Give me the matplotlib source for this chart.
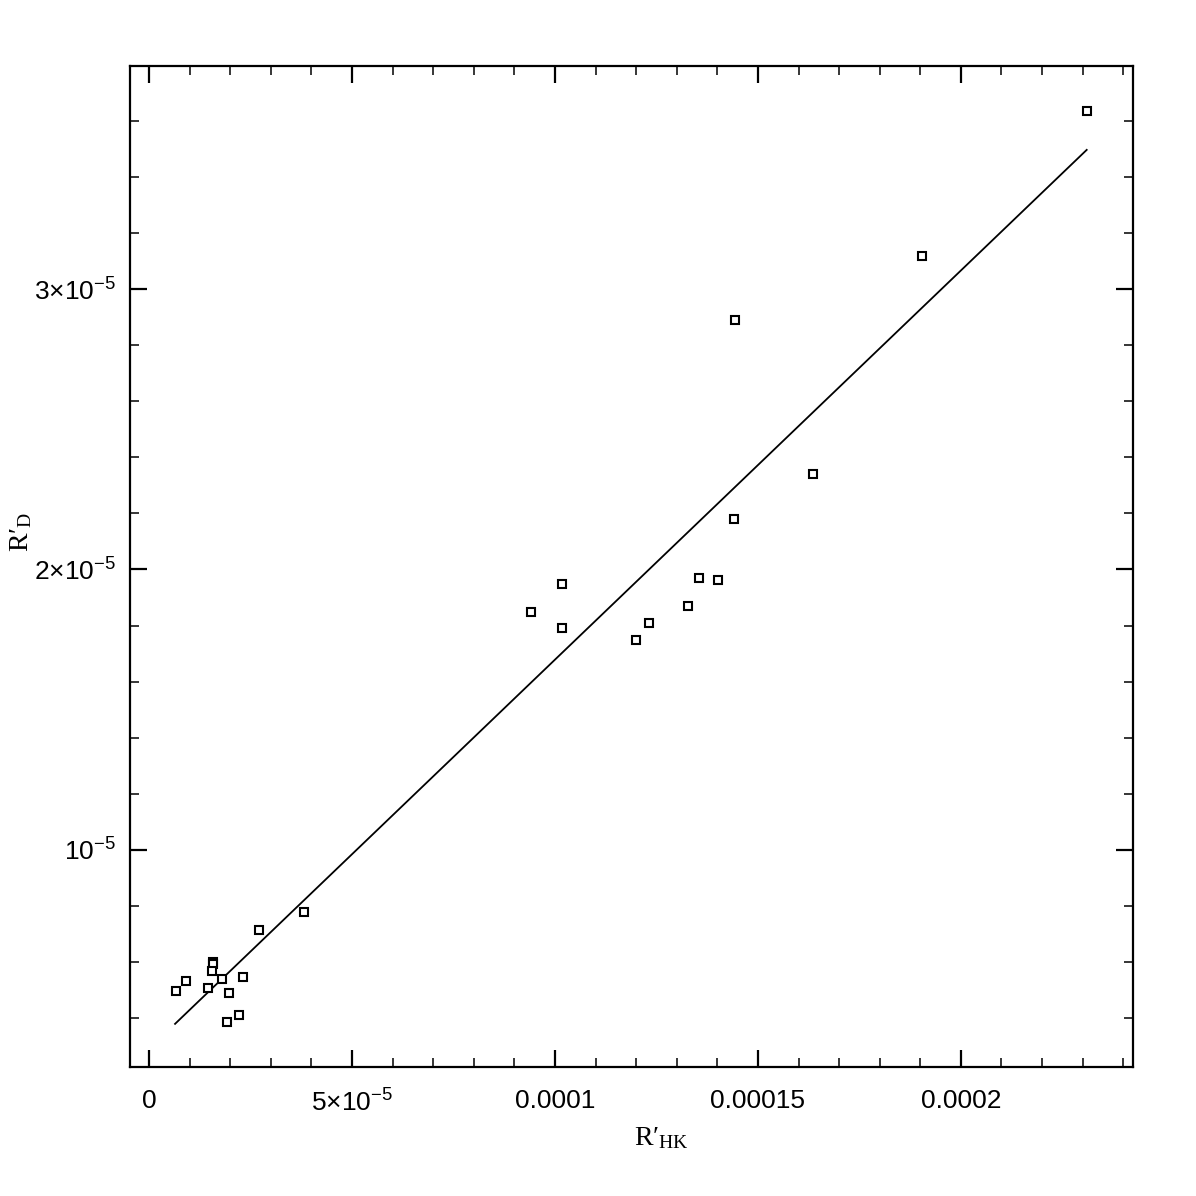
import numpy as np
import matplotlib
matplotlib.use("Agg")
import matplotlib.pyplot as plt
from matplotlib.ticker import FixedLocator, FixedFormatter, MultipleLocator

plt.rcParams['mathtext.fontset'] = 'custom'
plt.rcParams['mathtext.rm'] = 'Liberation Serif'
plt.rcParams['mathtext.sf'] = 'Liberation Sans'
plt.rcParams['mathtext.it'] = 'Liberation Serif:italic'

# measured points (R'_HK, R'_D)
r_hk = [2.310e-4, 1.904e-4, 1.443e-4, 1.635e-4, 1.441e-4, 1.355e-4, 1.401e-4,
        1.328e-4, 1.232e-4, 1.200e-4, 1.017e-4, 0.941e-4, 1.017e-4,
        3.818e-5, 2.709e-5, 1.564e-5, 1.576e-5, 1.559e-5, 1.791e-5, 2.315e-5,
        0.919e-5, 0.658e-5, 1.446e-5, 1.963e-5, 2.209e-5, 1.929e-5]
r_d = [3.635e-5, 3.118e-5, 2.889e-5, 2.340e-5, 2.180e-5, 1.970e-5, 1.963e-5,
       1.870e-5, 1.809e-5, 1.749e-5, 1.948e-5, 1.848e-5, 1.791e-5,
       0.779e-5, 0.715e-5, 0.601e-5, 0.592e-5, 0.569e-5, 0.540e-5, 0.546e-5,
       0.534e-5, 0.498e-5, 0.509e-5, 0.491e-5, 0.412e-5, 0.386e-5]

# linear fit end points
fit_x = [0.640e-5, 2.310e-4]
fit_y = [0.380e-5, 3.496e-5]

xticks = [0, 5e-5, 1e-4, 1.5e-4, 2e-4]
xtick_labels = ['0', r'$\mathsf{5{\times}10^{-5}}$', '0.0001', '0.00015', '0.0002']
yticks = [1e-5, 2e-5, 3e-5]
ytick_labels = [r'$\mathsf{10^{-5}}$', r'$\mathsf{2{\times}10^{-5}}$', r'$\mathsf{3{\times}10^{-5}}$']

fig = plt.figure(figsize=(11.96, 11.96), dpi=100)
ax = fig.add_axes([0.1087, 0.1079, 0.8386, 0.8369])

ax.plot(fit_x, fit_y, color='black', lw=1.3)
ax.plot(r_hk, r_d, ls='none', marker='s', ms=6.3, mfc='white', mec='black', mew=1.5)

ax.set_xlim(-4.7e-6, 2.424e-4)
ax.set_ylim(2.264e-6, 3.795e-5)

ax.xaxis.set_major_locator(FixedLocator(xticks))
ax.xaxis.set_major_formatter(FixedFormatter(xtick_labels))
ax.xaxis.set_minor_locator(MultipleLocator(1e-5))
ax.yaxis.set_major_locator(FixedLocator(yticks))
ax.yaxis.set_major_formatter(FixedFormatter(ytick_labels))
ax.yaxis.set_minor_locator(MultipleLocator(2e-6))

ax.tick_params(which='both', direction='in', top=True, right=True, color='black')
ax.tick_params(which='major', length=12.5, width=1.6,
               labelsize=19, labelfontfamily='Liberation Sans')
ax.tick_params(which='minor', length=6.5, width=1.1)
ax.tick_params(axis='x', which='major', pad=16)
ax.tick_params(axis='y', which='major', pad=10)

for sp in ax.spines.values():
    sp.set_linewidth(1.6)

ax.set_xlabel("R′$_{\\mathrm{HK}}$", fontsize=20, family='Liberation Serif',
              ha='center', va='center')
ax.xaxis.set_label_coords(0.530, -0.071)
ax.set_ylabel("R′$_{\\mathrm{D}}$", fontsize=20, family='Liberation Serif',
              ha='center', va='center')
ax.yaxis.set_label_coords(-0.109, 0.535)

fig.savefig('out.png', dpi=100)
